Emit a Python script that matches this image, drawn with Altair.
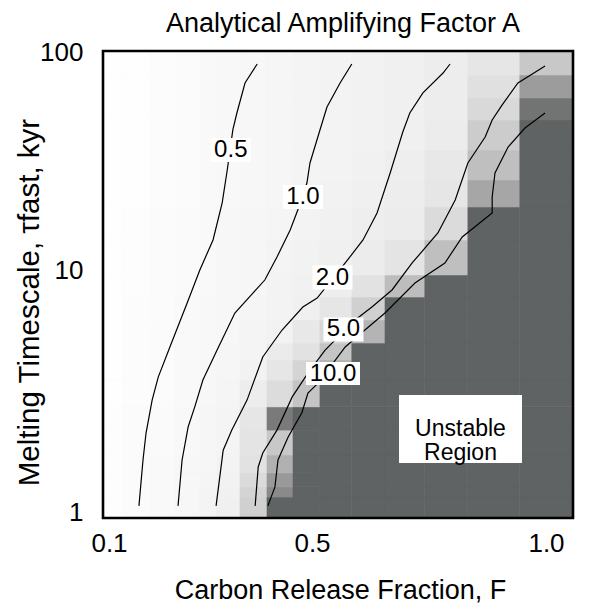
import altair as alt
import pandas as pd

FONT = "Liberation Sans"

# ---------------- axes ----------------
x_ticks = [0.1, 0.5, 1.0]
y_ticks = [1, 10, 100]
F_frame = [0.0882, 1.0577]
tau_frame = [0.9445, 101.06]

# ---------------- heatmap grid (A values; 100 = unstable) ----------------
F_edges = [0.0882, 0.1276, 0.1808, 0.2300, 0.2793, 0.3128, 0.3581, 0.4113, 0.4626,
           0.517, 0.585, 0.656, 0.741, 0.833, 0.944, 1.0577]
tau_edges = [0.9445, 1.153, 1.27, 1.45, 1.72, 2.18, 2.72, 3.51, 4.25, 4.99, 6.22,
             7.73, 9.54, 13.73, 19.45, 25.9, 35.5, 48.76, 61.5, 78.4, 101.06]
U = 100
A_rows = [  # bottom row first
    [0.15, 0.3, 0.45, 0.6, 0.8, 1.2, 5.0, U, U, U, U, U, U, U, U],
    [0.15, 0.3, 0.45, 0.6, 0.8, 1.1, 4.5, 33, U, U, U, U, U, U, U],
    [0.15, 0.3, 0.4, 0.55, 0.75, 1.0, 3.5, 20, U, U, U, U, U, U, U],
    [0.15, 0.25, 0.4, 0.55, 0.7, 0.9, 2.5, 11, U, U, U, U, U, U, U],
    [0.15, 0.25, 0.35, 0.5, 0.65, 0.85, 2.3, 6.4, U, U, U, U, U, U, U],
    [0.15, 0.25, 0.35, 0.5, 0.65, 0.8, 2.0, 47, U, U, U, U, U, U, U],
    [0.1, 0.2, 0.3, 0.45, 0.6, 0.75, 1.4, 3.4, 7.1, U, U, U, U, U, U],
    [0.1, 0.2, 0.3, 0.4, 0.55, 0.7, 1.0, 2.0, 4.5, 11, U, U, U, U, U],
    [0.1, 0.2, 0.3, 0.4, 0.5, 0.65, 0.85, 1.6, 2.5, 7.0, U, U, U, U, U],
    [0.1, 0.2, 0.3, 0.4, 0.5, 0.6, 0.8, 1.0, 1.8, 3.7, 10, U, U, U, U],
    [0.1, 0.2, 0.3, 0.4, 0.5, 0.6, 0.75, 0.9, 1.2, 2.0, 5.0, U, U, U, U],
    [0.1, 0.15, 0.25, 0.35, 0.45, 0.6, 0.7, 0.9, 1.1, 1.3, 2.6, 8.4, U, U, U],
    [0.1, 0.15, 0.25, 0.35, 0.45, 0.55, 0.65, 0.8, 1.0, 1.2, 1.5, 2.3, 8.0, U, U],
    [0.1, 0.15, 0.25, 0.35, 0.45, 0.55, 0.65, 0.75, 0.9, 1.1, 1.3, 1.5, 3.5, U, U],
    [0.05, 0.1, 0.2, 0.3, 0.4, 0.5, 0.6, 0.7, 0.8, 1.0, 1.2, 1.4, 2.0, 15, U],
    [0.05, 0.1, 0.2, 0.3, 0.4, 0.5, 0.6, 0.7, 0.8, 0.9, 1.1, 1.3, 1.8, 8.0, U],
    [0.05, 0.1, 0.2, 0.3, 0.4, 0.5, 0.6, 0.7, 0.8, 0.9, 1.0, 1.2, 1.5, 5.7, U],
    [0.05, 0.1, 0.2, 0.3, 0.4, 0.5, 0.6, 0.7, 0.8, 0.9, 1.0, 1.2, 1.4, 3.7, 60],
    [0.05, 0.1, 0.2, 0.3, 0.4, 0.5, 0.6, 0.7, 0.8, 0.9, 1.0, 1.2, 1.4, 2.8, 19],
    [0.05, 0.1, 0.2, 0.3, 0.4, 0.5, 0.6, 0.7, 0.8, 0.9, 1.0, 1.2, 1.4, 2.0, 6.4],
]

# ---------------- contour lines ----------------
c05_F = [0.159, 0.167, 0.173, 0.185, 0.197, 0.220, 0.254, 0.279, 0.305, 0.323, 0.333, 0.344, 0.352, 0.368, 0.392]
c05_tau = [1.06, 1.64, 2.12, 2.90, 3.61, 4.81, 7.30, 10.0, 13.73, 20.3, 28.75, 43.9, 52.5, 72.1, 88.1]
c10_F = [0.236, 0.244, 0.256, 0.269, 0.285, 0.313, 0.348, 0.384, 0.407, 0.431, 0.457, 0.472, 0.490, 0.496, 0.517, 0.532, 0.560, 0.585]
c10_tau = [1.06, 1.64, 2.25, 2.72, 3.51, 4.67, 6.64, 8.04, 9.09, 11.47, 15.26, 18.85, 25.07, 30.96, 43.88, 55.9, 72.1, 88.1]
c20_F = [0.311, 0.325, 0.342, 0.372, 0.403, 0.441, 0.482, 0.511, 0.571, 0.609, 0.639, 0.667, 0.694, 0.709, 0.737, 0.780, 0.795]
c20_tau = [1.06, 1.80, 2.18, 2.90, 4.37, 5.65, 7.03, 7.66, 10.77, 13.73, 18.26, 27.86, 42.96, 52.52, 64.9, 80.1, 88.1]
c50_F = [0.388, 0.394, 0.403, 0.431, 0.461, 0.492, 0.528, 0.592, 0.628, 0.671, 0.714, 0.769, 0.806, 0.833, 0.870, 0.885, 0.906, 0.940, 0.998]
c50_tau = [1.06, 1.535, 1.753, 2.18, 2.99, 3.75, 4.67, 6.22, 7.03, 8.27, 10.77, 14.78, 20.95, 30.96, 40.75, 48.76, 57.1, 72.1, 86.3]
c100_F = [0.413, 0.427, 0.433, 0.453, 0.480, 0.492, 0.513, 0.571, 0.613, 0.656, 0.720, 0.784, 0.821, 0.885, 0.885, 0.891, 0.919, 0.955, 0.998]
c100_tau = [1.06, 1.27, 1.64, 2.04, 2.57, 3.10, 3.41, 4.81, 5.65, 6.64, 8.84, 10.77, 14.17, 18.26, 21.62, 27.86, 36.66, 44.81, 52.52]

# ---------------- labels ----------------
label_text = ["0.5", "1.0", "2.0", "5.0"]
label_F = [0.340, 0.482, 0.5438, 0.5673]
label_tau = [35.5, 21.6, 9.31, 5.68]
label10_text = ["10.0"]
label10_F = [0.5449]
label10_tau = [3.735]
region_text = ["Unstable\nRegion"]
region_F = [0.8173]
region_tau = [2.203]

# ---------------- tables ----------------
cells = []
for i, row in enumerate(A_rows):
    for j, a in enumerate(row):
        cells.append({"F0": F_edges[j], "F1": F_edges[j + 1],
                      "t0": tau_edges[i], "t1": tau_edges[i + 1], "A": a})
cells_df = pd.DataFrame(cells)

contours = []
for lvl, fs, ts in [(0.5, c05_F, c05_tau), (1.0, c10_F, c10_tau), (2.0, c20_F, c20_tau),
                    (5.0, c50_F, c50_tau), (10.0, c100_F, c100_tau)]:
    for k, (f, t) in enumerate(zip(fs, ts)):
        contours.append({"level": lvl, "i": k, "F0": f, "t0": t})
contour_df = pd.DataFrame(contours)

lab_df = pd.DataFrame({"text": label_text, "F0": label_F, "t0": label_tau})
lab10_df = pd.DataFrame({"text": label10_text, "F0": label10_F, "t0": label10_tau})
reg_df = pd.DataFrame({"text": region_text, "F0": region_F, "t0": region_tau})
frame_df = pd.DataFrame({"F0": [F_frame[0]], "F1": [F_frame[1]], "t0": [tau_frame[0]], "t1": [tau_frame[1]]})

# ---------------- scales ----------------
xs = alt.Scale(type="linear", domain=[F_frame[0], 0.1, 0.5, 1.0, F_frame[1]],
               range=[0, 6, 209, 443, 470], nice=False, zero=False)
ys = alt.Scale(type="log", domain=[tau_frame[0], 1, 10, 100, tau_frame[1]],
               range=[467, 461, 219, 1, 0], nice=False)
cs = alt.Scale(type="linear", domain=[0, 0.5, 1, 2, 5, 10, 20, 50, 100],
               range=["#ffffff", "#f8f8f8", "#f2f2f2", "#e6e6e6", "#d0d0d0",
                      "#b4b4b4", "#999999", "#777777", "#5f6363"], clamp=True)

xaxis = alt.Axis(values=x_ticks, format=".1f", title="Carbon Release Fraction, F",
                 labelFontSize=26, titleFontSize=27, labelPadding=12,
                 titleX=237, titleY=80, titleBaseline="alphabetic", titleAlign="center")
yaxis = alt.Axis(values=y_ticks, format="d", title="Melting Timescale,  τfast, kyr",
                 labelFontSize=26, titleFontSize=29.5, labelPadding=20,
                 titleX=-65, titleY=251, titleAngle=270, titleBaseline="alphabetic",
                 titleAlign="center")

X = alt.X("F0:Q", scale=xs, axis=xaxis)
Y = alt.Y("t0:Q", scale=ys, axis=yaxis)

cell_layer = alt.Chart(cells_df).mark_rect(strokeWidth=0.6).encode(
    x=X, x2="F1:Q", y=Y, y2="t1:Q",
    color=alt.Color("A:Q", scale=cs, legend=None),
    stroke=alt.Stroke("A:Q", scale=cs, legend=None),
)

line_layer = alt.Chart(contour_df).mark_line(color="black", strokeWidth=1.2).encode(
    x=X, y=Y, detail="level:N", order="i:Q",
)

def box(df, hw, hh):
    return alt.Chart(df).mark_rect(color="white", xOffset=-hw, x2Offset=hw,
                                   yOffset=-hh, y2Offset=hh).encode(
        x=X, x2="F0:Q", y=Y, y2="t0:Q")

def txt(df, size):
    return alt.Chart(df).mark_text(font=FONT, fontSize=size, color="black",
                                   baseline="middle", align="center",
                                   lineBreak="\n", lineHeight=24).encode(
        x=X, y=Y, text="text:N")

frame_layer = alt.Chart(frame_df).mark_rect(fillOpacity=0, stroke="black", strokeWidth=2.6).encode(
    x=X, x2="F1:Q", y=Y, y2="t1:Q")

chart = alt.layer(
    cell_layer, line_layer,
    box(lab_df, 20, 12), box(lab10_df, 27, 11.5), box(reg_df, 61.5, 34),
    txt(lab_df, 24), txt(lab10_df, 24), txt(reg_df, 23),
    frame_layer,
).properties(
    width=470, height=467,
    padding={"left": 103, "top": 51, "right": 27, "bottom": 93},
    autosize=alt.AutoSizeParams(type="none"),
    title=alt.TitleParams("Analytical Amplifying Factor A", fontSize=27, font=FONT,
                          fontWeight="normal", anchor="middle", baseline="alphabetic",
                          frame="group", offset=-20, dx=5, color="black"),
    background="white",
).configure_axis(
    labelFont=FONT, titleFont=FONT, labelColor="black", titleColor="black",
    titleFontWeight="normal", domain=False, ticks=False, grid=False,
).configure_view(stroke=None)

chart.save("out.html", embed_options={"renderer": "svg", "actions": False})
